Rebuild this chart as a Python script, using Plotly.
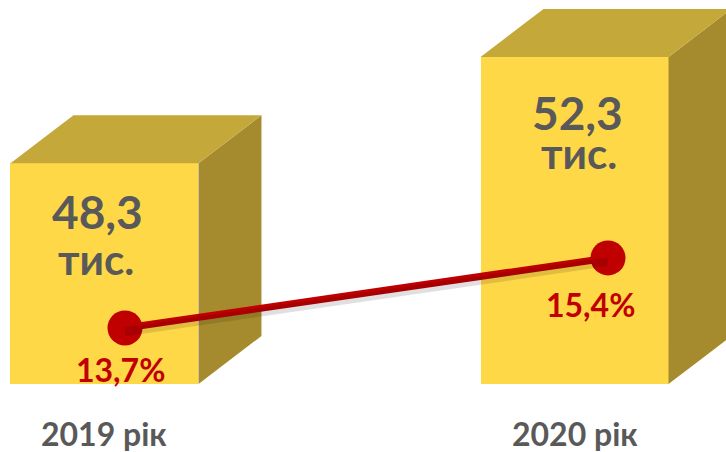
import plotly.graph_objects as go

# ---- data ----
categories = ["2019 рік", "2020 рік"]
values = [48.3, 52.3]
value_labels = ["48,3", "52,3"]
unit_label = "тис."
shares = [13.7, 15.4]
share_labels = ["13,7%", "15,4%"]

# ---- style ----
BASE = 40
BAR_W = 0.40
DX = 0.134
DY = 1.805
FRONT = "#FFD848"
TOP = "#C4A83A"
SIDE = "#A68B2E"
RED = "#C00000"
GRAY = "#595959"
FONT = "Lato"
W = "bold"

xs = list(range(len(categories)))
fig = go.Figure()

# side and top faces (3D effect)
for i, v in zip(xs, values):
    l, r = i - BAR_W / 2, i + BAR_W / 2
    fig.add_trace(go.Scatter(
        x=[r, r, r + DX, r + DX, r], y=[BASE, v, v + DY, BASE + DY, BASE],
        fill="toself", fillcolor=SIDE, mode="lines", line=dict(width=0),
        hoverinfo="skip", showlegend=False))
    fig.add_trace(go.Scatter(
        x=[l, l + DX, r + DX, r, l], y=[v, v + DY, v + DY, v, v],
        fill="toself", fillcolor=TOP, mode="lines", line=dict(width=0),
        hoverinfo="skip", showlegend=False))

# front faces
fig.add_trace(go.Bar(
    x=xs, y=[v - BASE for v in values], base=BASE, width=BAR_W,
    marker=dict(color=FRONT, line=dict(width=0)), showlegend=False,
    hoverinfo="skip"))

# soft shadow of the line
fig.add_trace(go.Scatter(
    x=xs, y=shares, xaxis="x2", yaxis="y3", mode="lines",
    line=dict(color="rgba(0,0,0,0.12)", width=9), hoverinfo="skip",
    showlegend=False))

# share line
fig.add_trace(go.Scatter(
    x=xs, y=shares, xaxis="x2", yaxis="y2", mode="lines+markers",
    line=dict(color=RED, width=7),
    marker=dict(color=RED, size=35, line=dict(width=0)),
    hoverinfo="skip", showlegend=False))

ann = []
num_yshift = [-48, -56]
num_xshift = [-7, 3]
unit_yshift = [-96, -96]
unit_xshift = [-8, 4]
for i, v, lab in zip(xs, values, value_labels):
    ann.append(dict(x=i, y=v, xref="x", yref="y", text=lab, showarrow=False,
                    xshift=num_xshift[i], yshift=num_yshift[i],
                    yanchor="middle", xanchor="center",
                    font=dict(family=FONT, size=46, color=GRAY, weight=W)))
    ann.append(dict(x=i, y=v, xref="x", yref="y", text=unit_label, showarrow=False,
                    xshift=unit_xshift[i], yshift=unit_yshift[i],
                    yanchor="middle", xanchor="center",
                    font=dict(family=FONT, size=42, color=GRAY, weight=W)))

share_yshift = [-42, -47]
share_xshift = [-5, -18]
for i, s, lab in zip(xs, shares, share_labels):
    ann.append(dict(x=i, y=s, xref="x2", yref="y2", text=lab, showarrow=False,
                    xshift=share_xshift[i], yshift=share_yshift[i],
                    yanchor="middle", xanchor="center",
                    font=dict(family=FONT, size=32, color=RED, weight=W)))

for i, c in zip(xs, categories):
    ann.append(dict(x=i, y=0.042, xref="x", yref="paper", text=c, showarrow=False,
                    yanchor="middle", xanchor="center",
                    font=dict(family=FONT, size=32, color=GRAY, weight=W)))

hidden = dict(visible=False, fixedrange=True)
fig.update_layout(
    width=726, height=452, margin=dict(l=0, r=0, t=0, b=0),
    paper_bgcolor="white", plot_bgcolor="white",
    xaxis=dict(range=[-0.2223, 1.3223], **hidden),
    yaxis=dict(range=[37.44, 54.44], **hidden),
    xaxis2=dict(range=[-0.2588, 1.2443], overlaying="x", **hidden),
    yaxis2=dict(range=[10.69, 21.66], overlaying="y", **hidden),
    yaxis3=dict(range=[10.78, 21.75], overlaying="y", **hidden),
    annotations=ann, bargap=0,
)

fig.write_html(
    "out.html",
    config={"displayModeBar": False},
    post_script="document.body.style.margin='0';document.body.style.overflow='hidden';",
)
